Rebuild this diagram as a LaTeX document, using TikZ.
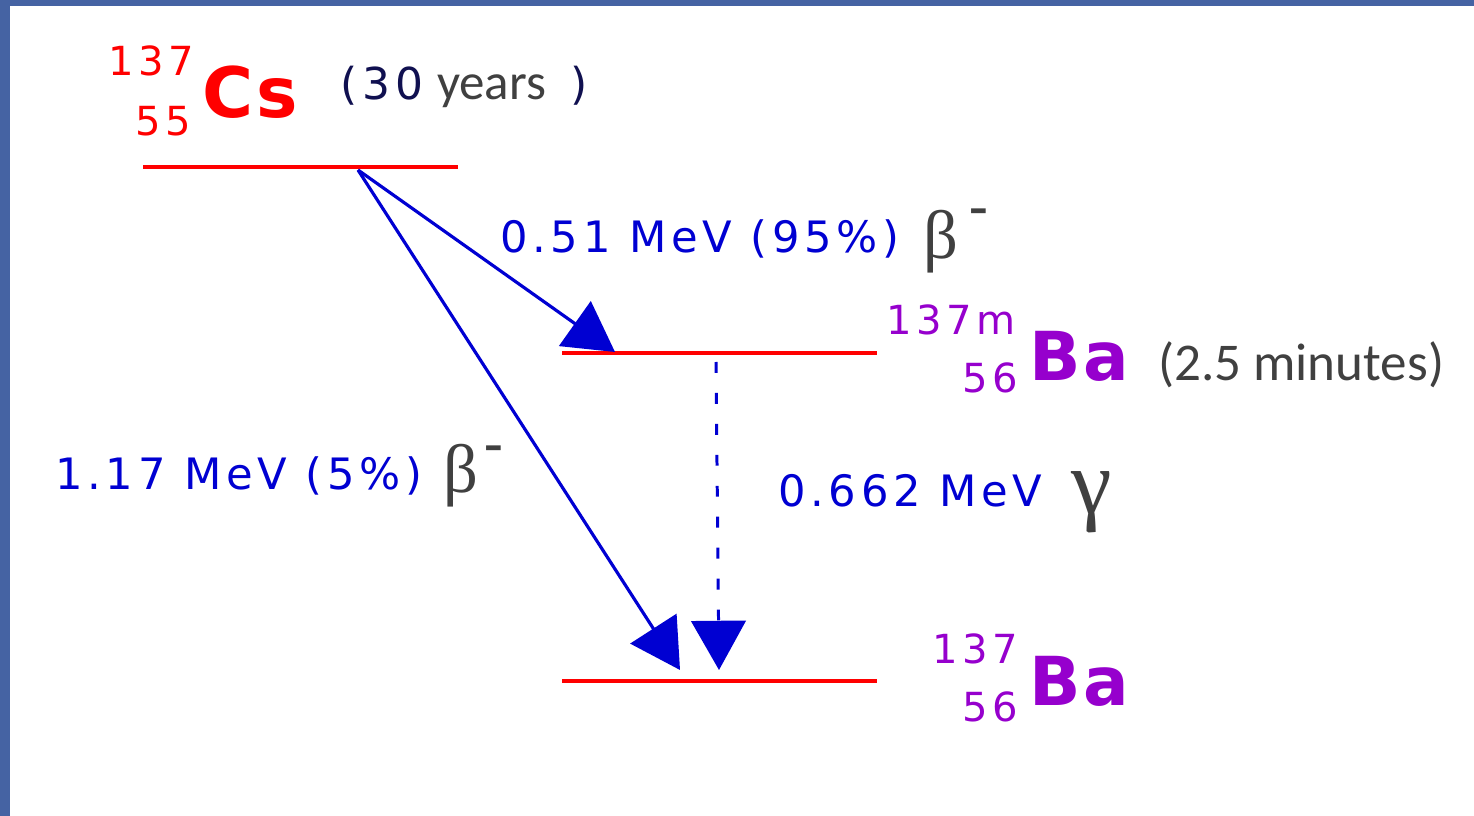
\documentclass[tikz,border=0pt]{standalone}
\usepackage{fontspec}
\usetikzlibrary{arrows.meta}
\newfontfamily\dvsp[LetterSpace=11]{DejaVu Sans}
\newfontfamily\dviso[LetterSpace=12]{DejaVu Sans}
\newfontfamily\dvplain{DejaVu Sans}
\newfontfamily\dvelem[LetterSpace=5]{DejaVu Sans}
\newfontfamily\carl{Carlito}
\newfontfamily\lser{Liberation Serif}
\definecolor{slideblue}{RGB}{69,99,163}
\definecolor{lvlred}{RGB}{255,0,0}
\definecolor{arrblue}{RGB}{0,0,210}
\definecolor{isopurple}{RGB}{150,0,205}
\definecolor{txtgray}{RGB}{64,64,64}
\definecolor{navy}{RGB}{16,16,80}
\tikzset{
  txt/.style={inner sep=0pt, outer sep=0pt, anchor=base west},
  level/.style={draw=lvlred, line width=0.95pt},
  betaarrow/.style={draw=arrblue, line width=0.9pt, -{Triangle[length=14pt,width=15.5pt]}},
  gammaarrow/.style={draw=arrblue, line width=0.85pt, dash pattern=on 3.1pt off 5.7pt, -{Triangle[length=14pt,width=15.5pt]}},
  bluelabel/.style={txt, text=arrblue, font=\dvsp\fontsize{12.3}{14}\selectfont},
  isonum/.style={txt, font=\dviso\fontsize{11.4}{14}\selectfont},
  elem/.style={txt, font=\dvelem\bfseries\fontsize{19.2}{22}\selectfont},
  greek/.style={txt, text=txtgray, font=\lser\fontsize{19.5}{22}\selectfont},
  supminus/.style={inner sep=0pt, anchor=base, text=txtgray, font=\lser\bfseries\fontsize{16}{18}\selectfont},
  halflife/.style={txt, text=txtgray, font=\carl\fontsize{15.1}{17}\selectfont},
}
\begin{document}
\begin{tikzpicture}[x=0.01cm,y=-0.01cm]
\useasboundingbox (0,0) rectangle (1474,816);
\fill[white] (0,0) rectangle (1474,816);
\fill[slideblue] (0,0) rectangle (10,816);
\fill[slideblue] (0,0) rectangle (1474,6);

% energy levels
\coordinate (csA) at (143,167);
\coordinate (csB) at (458,167);
\coordinate (bamA) at (562,353);
\coordinate (bamB) at (877,353);
\coordinate (baA) at (562,681);
\coordinate (baB) at (877,681);
\draw[level] (csA) -- (csB);
\draw[level] (bamA) -- (bamB);
\draw[level] (baA) -- (baB);

% transitions
\coordinate (src) at (358,170);
\coordinate (tipA) at (615,352);
\coordinate (tipB) at (680,670);
\coordinate (gtop) at (716,362);
\coordinate (gtip) at (719,670);
\draw[betaarrow] (src) -- (tipA);
\draw[betaarrow] (src) -- (tipB);
\draw[gammaarrow] (gtop) -- (gtip);

% Cs-137
\node[isonum, text=lvlred] (csmass) at (108,76) {137};
\node[isonum, text=lvlred] (csz) at (135,136) {55};
\node[elem, text=lvlred, font=\dvelem\bfseries\fontsize{19.8}{22}\selectfont] (cs) at (202,118) {Cs};
\node[txt, text=navy, font=\dviso\fontsize{12.5}{15}\selectfont] (hl1a) at (340,100) {(30};
\node[halflife, font=\carl\fontsize{14.5}{17}\selectfont] (hl1b) at (437,100) {years};
\node[txt, text=navy, font=\dvplain\fontsize{12.5}{15}\selectfont] (hl1c) at (570,100) {)};

% Ba-137m
\node[isonum, text=isopurple] (bammass) at (886,335) {137m};
\node[isonum, text=isopurple] (bamz) at (962,393) {56};
\node[elem, text=isopurple] (bam) at (1029,380) {Ba};
\node[halflife] (hl2) at (1158,380) {(2.5 minutes)};

% Ba-137
\node[isonum, text=isopurple] (bamass) at (932,663) {137};
\node[isonum, text=isopurple] (baz) at (962,721) {56};
\node[elem, text=isopurple] (ba) at (1029,705) {Ba};

% labels
\node[bluelabel] (lab1) at (500,253) {0.51 MeV (95\%)};
\node[greek] (beta1) at (923,259) {β};
\node[supminus] (minus1) at (979,225) {-};

\node[bluelabel] (lab2) at (55,489) {1.17 MeV (5\%)};
\node[greek] (beta2) at (443,492) {β};
\node[supminus] (minus2) at (494,461) {-};

\node[bluelabel] (lab3) at (778,506) {0.662 MeV};
\node[greek, font=\lser\fontsize{26}{28}\selectfont] (gam) at (1071,513) {γ};
\end{tikzpicture}
\end{document}
